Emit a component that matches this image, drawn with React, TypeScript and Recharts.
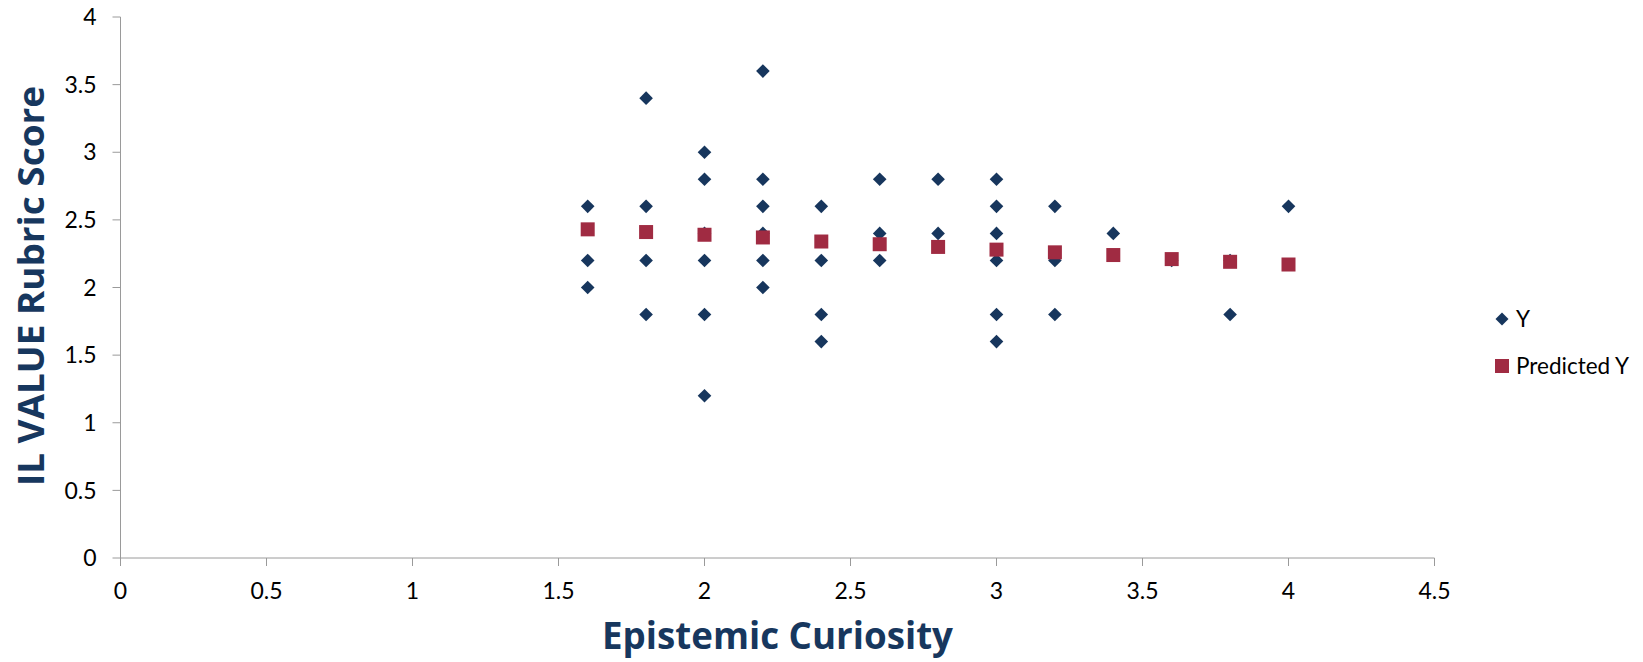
import React from 'react';
import {
  ScatterChart,
  Scatter,
  XAxis,
  YAxis,
  Legend,
  Label,
} from 'recharts';

// observed points (Epistemic Curiosity, IL VALUE score)
const curiosity = [
  1.6, 1.6, 1.6,
  1.8, 1.8, 1.8, 1.8,
  2.0, 2.0, 2.0, 2.0, 2.0, 2.0,
  2.2, 2.2, 2.2, 2.2, 2.2, 2.2,
  2.4, 2.4, 2.4, 2.4,
  2.6, 2.6, 2.6,
  2.8, 2.8,
  3.0, 3.0, 3.0, 3.0, 3.0, 3.0,
  3.2, 3.2, 3.2,
  3.4,
  3.6,
  3.8, 3.8,
  4.0,
];
const rubricScore = [
  2.6, 2.2, 2.0,
  3.4, 2.6, 2.2, 1.8,
  3.0, 2.8, 2.4, 2.2, 1.8, 1.2,
  3.6, 2.8, 2.6, 2.4, 2.2, 2.0,
  2.6, 2.2, 1.8, 1.6,
  2.8, 2.4, 2.2,
  2.8, 2.4,
  2.8, 2.6, 2.4, 2.2, 1.8, 1.6,
  2.6, 2.2, 1.8,
  2.4,
  2.2,
  2.2, 1.8,
  2.6,
];

// regression line values
const predictedX = [1.6, 1.8, 2.0, 2.2, 2.4, 2.6, 2.8, 3.0, 3.2, 3.4, 3.6, 3.8, 4.0];
const predictedY = [2.43, 2.41, 2.39, 2.37, 2.34, 2.32, 2.3, 2.28, 2.26, 2.24, 2.21, 2.19, 2.17];

const xTicks = [0, 0.5, 1, 1.5, 2, 2.5, 3, 3.5, 4, 4.5];
const yTicks = [0, 0.5, 1, 1.5, 2, 2.5, 3, 3.5, 4];

const NAVY = '#17365D';
const RED = '#A02B42';
const AXIS = '#9A9A9A';
const TITLE = '#17375E';
const FONT = 'Lato, "Liberation Sans", sans-serif';
const TITLE_FONT = '"Open Sans", Lato, sans-serif';

const observed = curiosity.map((x, i) => ({ x, y: rubricScore[i] }));
const predicted = predictedX.map((x, i) => ({ x, y: predictedY[i] }));

const Diamond = (props: any) => {
  const { cx, cy } = props;
  const r = 6.8;
  return (
    <polygon
      points={`${cx},${cy - r} ${cx + r},${cy} ${cx},${cy + r} ${cx - r},${cy}`}
      fill={NAVY}
    />
  );
};

const Square = (props: any) => {
  const { cx, cy } = props;
  return <rect x={cx - 7} y={cy - 7} width={14} height={14} fill={RED} />;
};

const renderLegend = () => (
  <svg width={160} height={84}>
    <polygon points="14,12.5 20.5,19 14,25.5 7.5,19" fill={NAVY} />
    <text x={28} y={27} fontFamily={FONT} fontSize={22.5} fill="#000">Y</text>
    <rect x={7} y={59} width={14} height={14} fill={RED} />
    <text x={28} y={74} fontFamily={FONT} fontSize={22.5} fill="#000">Predicted Y</text>
  </svg>
);

const XTitle = (props: any) => {
  const { viewBox } = props;
  const cx = viewBox.x + viewBox.width / 2;
  return (
    <text
      x={cx}
      y={649}
      textAnchor="middle"
      fontFamily={TITLE_FONT}
      fontWeight={700}
      fontSize={37}
      fill={TITLE}
      textLength={351}
      lengthAdjust="spacingAndGlyphs"
    >
      Epistemic Curiosity
    </text>
  );
};

const YTitle = (props: any) => {
  const { viewBox } = props;
  const cy = viewBox.y + viewBox.height / 2 - 1.5;
  return (
    <text
      x={43.5}
      y={cy}
      transform={`rotate(-90, 43.5, ${cy})`}
      textAnchor="middle"
      fontFamily={TITLE_FONT}
      fontWeight={700}
      fontSize={36.5}
      fill={TITLE}
      textLength={400}
      lengthAdjust="spacingAndGlyphs"
    >
      IL VALUE Rubric Score
    </text>
  );
};

export default function App() {
  return (
    <div style={{ position: 'absolute', left: 0, top: 0, background: '#fff' }}>
      <ScatterChart
        width={1643}
        height={662}
        margin={{ top: 17, right: 208.5, bottom: 64, left: 40.5 }}
      >
        <XAxis
          type="number"
          dataKey="x"
          domain={[0, 4.5]}
          ticks={xTicks}
          interval={0}
          height={40}
          tickSize={8}
          tickMargin={17}
          stroke={AXIS}
          tick={{ fill: '#000', fontSize: 23, fontFamily: FONT }}
        >
          <Label content={<XTitle />} />
        </XAxis>
        <YAxis
          type="number"
          dataKey="y"
          domain={[0, 4]}
          ticks={yTicks}
          interval={0}
          width={80}
          tickSize={8}
          tickMargin={16}
          stroke={AXIS}
          tick={{ fill: '#000', fontSize: 23, fontFamily: FONT }}
        >
          <Label content={<YTitle />} />
        </YAxis>
        <Legend
          layout="horizontal"
          verticalAlign="middle"
          align="center"
          content={renderLegend}
          wrapperStyle={{ left: 1488, top: 300, width: 160, height: 84 }}
        />
        <Scatter
          name="Y"
          data={observed}
          fill={NAVY}
          shape={Diamond}
          isAnimationActive={false}
        />
        <Scatter
          name="Predicted Y"
          data={predicted}
          fill={RED}
          shape={Square}
          isAnimationActive={false}
        />
      </ScatterChart>
    </div>
  );
}
